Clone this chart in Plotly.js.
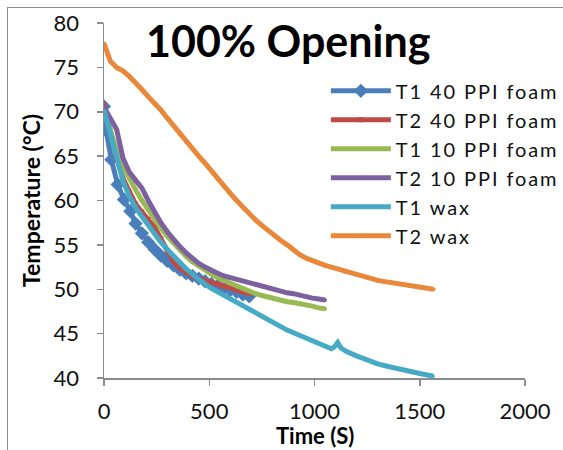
<!DOCTYPE html>
<html>
<head>
<meta charset="utf-8">
<script src="https://cdn.plot.ly/plotly-3.0.1.min.js"></script>
<style>
html,body{margin:0;padding:0;overflow:hidden;background:#fff;}
#wrap{position:relative;width:563px;height:450px;}
#chart{width:563px;height:450px;}
#frame{position:absolute;left:7px;top:7px;width:700px;height:600px;border-left:1px solid #8c8c8c;border-top:1px solid #8c8c8c;pointer-events:none;}
.legendtext{letter-spacing:1.9px;}
</style>
</head>
<body>
<div id="wrap"><div id="chart"></div><div id="frame"></div></div>
<script>
// T1 40 PPI foam
const t_t1_40 = [0, 10, 35, 65, 95, 125, 150, 180, 210, 240, 270, 300, 330, 360, 390, 420, 450, 480, 510, 540, 570, 600, 630, 660, 690];
const y_t1_40 = [70.6, 67.9, 64.6, 61.8, 60.1, 58.8, 57.4, 56.3, 55.3, 54.5, 53.8, 53.2, 52.7, 52.2, 51.8, 51.5, 51.2, 50.9, 50.6, 50.4, 50.1, 49.9, 49.7, 49.4, 49.2];
// T2 40 PPI foam
const t_t2_40 = [0, 30, 60, 90, 120, 150, 180, 210, 240, 270, 300, 330, 360, 390, 420, 450, 480, 510, 540, 570, 600, 630, 660, 690];
const y_t2_40 = [70.8, 67.6, 64.8, 62.5, 60.9, 59.6, 58.7, 57.9, 57.0, 55.7, 54.3, 53.1, 52.4, 51.9, 51.5, 51.2, 51.0, 50.8, 50.6, 50.3, 50.2, 49.9, 49.7, 49.5];
// T1 10 PPI foam
const t_t1_10 = [0, 30, 60, 90, 120, 150, 180, 210, 240, 270, 300, 330, 360, 390, 420, 450, 480, 510, 540, 570, 600, 630, 660, 690, 720, 750, 780, 810, 840, 870, 900, 930, 960, 990, 1020, 1050];
const y_t1_10 = [70.3, 68.0, 65.6, 63.9, 62.4, 61.2, 60.0, 58.9, 57.8, 56.9, 56.0, 55.2, 54.4, 53.7, 53.1, 52.6, 52.1, 51.7, 51.3, 51.0, 50.6, 50.3, 50.0, 49.8, 49.5, 49.3, 49.1, 48.9, 48.8, 48.6, 48.5, 48.4, 48.2, 48.1, 47.9, 47.8];
// T2 10 PPI foam
const t_t2_10 = [0, 30, 60, 90, 120, 150, 180, 210, 240, 270, 300, 330, 360, 390, 420, 450, 480, 510, 540, 570, 600, 630, 660, 690, 720, 750, 780, 810, 840, 870, 900, 930, 960, 990, 1020, 1050];
const y_t2_10 = [70.5, 69.3, 68.0, 64.8, 63.2, 62.3, 61.4, 60.0, 58.6, 57.5, 56.5, 55.6, 54.8, 54.1, 53.5, 52.9, 52.5, 52.1, 51.8, 51.5, 51.3, 51.1, 50.9, 50.7, 50.5, 50.3, 50.1, 50.0, 49.8, 49.6, 49.5, 49.3, 49.2, 49.0, 48.9, 48.8];
// T1 wax
const t_t1_wax = [0, 30, 60, 90, 120, 150, 180, 210, 240, 270, 300, 330, 360, 390, 420, 450, 480, 510, 540, 570, 600, 630, 660, 690, 720, 750, 780, 810, 840, 870, 900, 930, 960, 990, 1020, 1050, 1080, 1095, 1110, 1125, 1150, 1200, 1250, 1300, 1350, 1400, 1450, 1500, 1565];
const y_t1_wax = [70.2, 67.6, 65.0, 62.2, 60.5, 59.2, 58.2, 57.2, 56.2, 55.3, 54.5, 53.7, 53.0, 52.3, 51.7, 51.1, 50.6, 50.1, 49.7, 49.3, 48.9, 48.5, 48.1, 47.7, 47.3, 46.9, 46.5, 46.1, 45.7, 45.4, 45.1, 44.8, 44.5, 44.2, 43.9, 43.6, 43.3, 43.5, 44.0, 43.4, 43.0, 42.5, 42.0, 41.6, 41.3, 41.0, 40.7, 40.5, 40.2];
// T2 wax
const t_t2_wax = [0, 15, 30, 60, 90, 120, 150, 180, 210, 240, 270, 300, 330, 360, 390, 420, 450, 480, 510, 540, 570, 600, 630, 660, 690, 720, 750, 780, 810, 840, 870, 900, 930, 960, 990, 1020, 1050, 1080, 1110, 1140, 1170, 1200, 1250, 1300, 1350, 1400, 1450, 1500, 1565];
const y_t2_wax = [77.7, 76.5, 75.7, 75.0, 74.6, 74.0, 73.3, 72.5, 71.7, 71.0, 70.2, 69.3, 68.4, 67.5, 66.6, 65.8, 65.0, 64.2, 63.3, 62.4, 61.6, 60.8, 60.0, 59.2, 58.5, 57.8, 57.2, 56.6, 56.0, 55.5, 55.0, 54.4, 53.9, 53.5, 53.2, 52.9, 52.7, 52.5, 52.3, 52.0, 51.8, 51.6, 51.3, 51.0, 50.8, 50.6, 50.4, 50.2, 50.0];

const seriesNames = ["T1 40 PPI foam", "T2 40 PPI foam", "T1 10 PPI foam", "T2 10 PPI foam", "T1 wax", "T2 wax"];
const xTicks = [0, 500, 1000, 1500, 2000];
const yTicks = [40, 45, 50, 55, 60, 65, 70, 75, 80];

const FONT = "Lato, 'Open Sans', sans-serif";
const colors = ["#4a7ebb", "#be4b48", "#98b954", "#7d60a0", "#46aac5", "#e9883a"];
const xs = [t_t1_40, t_t2_40, t_t1_10, t_t2_10, t_t1_wax, t_t2_wax];
const ys = [y_t1_40, y_t2_40, y_t1_10, y_t2_10, y_t1_wax, y_t2_wax];
const markerSym = ["diamond", "square", "circle", "circle", "circle", "circle"];
const markerSize = [11, 5, 4, 4, 3, 4];

const traces = seriesNames.map((n, i) => ({
  type: "scatter",
  mode: "lines+markers",
  name: n,
  x: xs[i],
  y: ys[i],
  line: {color: colors[i], width: 5},
  marker: {symbol: markerSym[i], size: markerSize[i], color: colors[i]}
}));

const axisCommon = {
  showline: true, linecolor: "#8c8c8c", linewidth: 1.5,
  ticks: "outside", ticklen: 6, tickwidth: 1.5, tickcolor: "#8c8c8c",
  showgrid: false, zeroline: false,
  tickfont: {family: FONT, size: 22, color: "#111"}
};

const layout = {
  width: 563, height: 450,
  margin: {l: 104, r: 38, t: 23, b: 72, autoexpand: false},
  paper_bgcolor: "#fff", plot_bgcolor: "#fff",
  font: {family: FONT, color: "#111"},
  title: {
    text: "<b>100% Opening</b>",
    font: {family: FONT, size: 43, color: "#000"},
    xref: "container", yref: "container",
    x: 0.512, xanchor: "center",
    y: 0.907, yanchor: "middle"
  },
  xaxis: Object.assign({}, axisCommon, {
    range: [0, 2000], tickvals: xTicks, ticktext: xTicks.map(String),
    ticklabelstandoff: 7
  }),
  yaxis: Object.assign({}, axisCommon, {
    range: [40, 80], tickvals: yTicks, ticktext: yTicks.map(String),
    ticklabelstandoff: 13,
    title: {text: "<b>Temperature (°C)</b>", font: {family: FONT, size: 23, color: "#000"}, standoff: 6}
  }),
  annotations: [{
    text: "<b>Time (S)</b>", xref: "paper", yref: "paper",
    x: 0.5, y: -0.162, xanchor: "center", yanchor: "middle", showarrow: false,
    font: {family: FONT, size: 22, color: "#000"}
  }],
  legend: {
    x: 0.527, xanchor: "left", y: 0.864, yanchor: "top",
    bgcolor: "rgba(0,0,0,0)", borderwidth: 0,
    font: {family: FONT, size: 20, color: "#111"},
    itemwidth: 60, tracegroupgap: 0
  },
  showlegend: true
};

Plotly.newPlot("chart", traces, layout, {displayModeBar: false, staticPlot: true});
</script>
</body>
</html>
